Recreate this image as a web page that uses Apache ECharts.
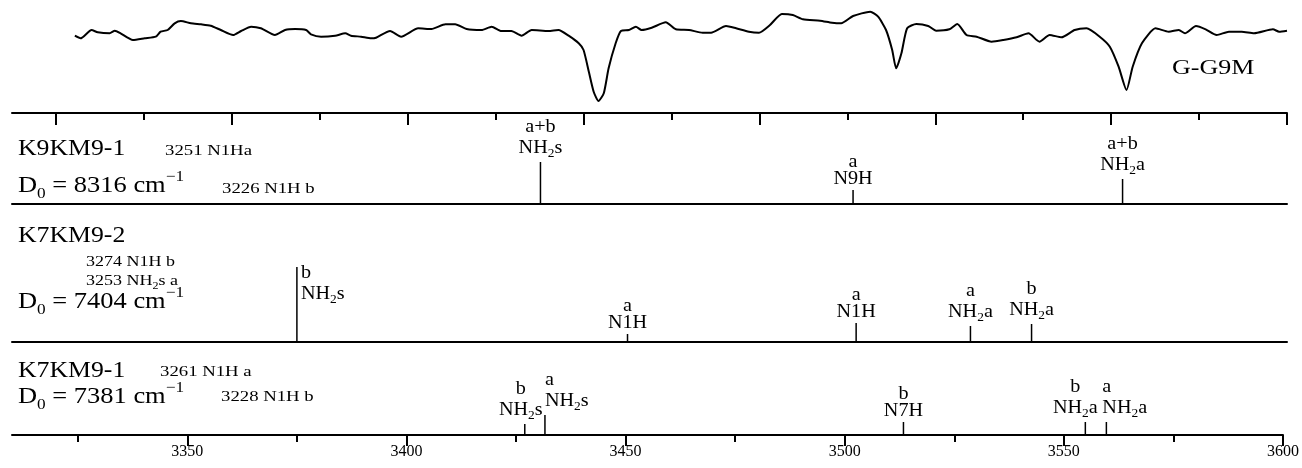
<!DOCTYPE html>
<html>
<head>
<meta charset="utf-8">
<script src="https://cdn.jsdelivr.net/npm/echarts@6/dist/echarts.min.js"></script>
<style>
  html, body { margin: 0; padding: 0; background: #fff; }
  #chart { width: 1302px; height: 468px; }
</style>
</head>
<body>
<div id="chart"></div>
<script>
const FONT = '"Liberation Serif", "Times New Roman", serif'
const X_MIN = 3310
const X_MAX = 3600

// measured spectrum (depth: larger = deeper dip)
const specWn = [3324.3, 3325.6, 3328.1, 3329.5, 3332.2, 3333.4, 3334.7, 3337.5, 3340.2, 3342.7,
  3343.8, 3345.4, 3347.0, 3348.4, 3350.7, 3353.0, 3355.2, 3357.5, 3360.3, 3362.1,
  3364.4, 3366.6, 3369.8, 3372.1, 3374.4, 3376.9, 3378.0, 3380.3, 3383.5, 3385.8,
  3387.1, 3389.4, 3391.7, 3392.8, 3396.0, 3398.5, 3402.4, 3405.4, 3408.6, 3410.8,
  3413.4, 3416.8, 3419.1, 3421.3, 3423.6, 3425.9, 3428.2, 3432.0, 3434.3, 3436.6,
  3438.9, 3440.0, 3441.2, 3442.3, 3443.4, 3444.6, 3445.7, 3447.3, 3448.5, 3450.3,
  3451.9, 3453.2, 3455.5, 3458.7, 3461.0, 3464.0, 3467.1, 3469.0, 3472.4, 3474.7,
  3477.6, 3479.9, 3482.4, 3485.1, 3487.6, 3489.9, 3493.8, 3496.5, 3498.6, 3501.3,
  3505.2, 3507.0, 3508.8, 3510.2, 3511.1, 3512.3, 3513.6, 3515.7, 3518.4, 3520.2,
  3523.2, 3525.0, 3527.1, 3529.4, 3532.8, 3535.5, 3538.5, 3541.2, 3543.7, 3546.0,
  3548.7, 3551.7, 3554.4, 3557.4, 3559.7, 3561.7, 3563.5, 3564.9, 3567.0, 3570.1,
  3573.1, 3575.4, 3576.8, 3579.3, 3581.5, 3584.0, 3586.8, 3589.7, 3592.5, 3596.8,
  3598.2, 3600.0]
const specDepth = [35.7, 38.3, 30, 32.3, 33.3, 30.7, 33.3, 40, 38.3, 36.7,
  31.7, 30, 23.3, 21, 23.3, 24.3, 25.7, 30, 35, 31,
  26.7, 28.3, 35, 30, 29, 30, 34.3, 36.7, 35.7, 33.3,
  35.7, 36.7, 38.3, 37.7, 31, 36.7, 28.3, 29, 24.3, 24.3,
  29, 30, 26.7, 31, 31, 35.7, 30, 31, 30, 35.7,
  43.3, 50, 71.7, 91.7, 101, 93.3, 68.3, 43.3, 31, 30,
  26.7, 30, 27.7, 22.3, 29.3, 30, 32.7, 32.7, 26, 28.3,
  31.7, 32.7, 25, 14, 15, 19.3, 20.7, 22.7, 23.3, 16,
  11.7, 16.7, 30, 50, 68.3, 53.3, 28.3, 24, 26, 30.7,
  29.3, 24, 35, 36.7, 41.7, 40, 37.3, 33.3, 41.7, 35,
  37.3, 30, 28.3, 36.7, 46.7, 66.7, 90, 66.7, 43.3, 28.3,
  31.7, 30, 33.3, 26, 29.3, 35, 31.7, 31.7, 33.3, 29.3,
  31.7, 30.7]

// K9KM9-1 sticks
const k9Wn = [3430.2, 3501.3, 3562.6]
const k9Int = [42, 14, 25]
const k9Conf = ['a+b', 'a', 'a+b']
const k9Mode = ['NH2s', 'N9H', 'NH2a']

// K7KM9-2 sticks
const k72Wn = [3374.8, 3450.0, 3502.0, 3528.0, 3541.9]
const k72Int = [75, 8, 19, 16, 18]
const k72Conf = ['b', 'a', 'a', 'a', 'b']
const k72Mode = ['NH2s', 'N1H', 'N1H', 'NH2a', 'NH2a']

// K7KM9-1 sticks
const k71Wn = [3427.0, 3431.6, 3513.4, 3554.9, 3559.7]
const k71Int = [11, 20, 13, 13, 13]
const k71Conf = ['b', 'a', 'b', 'b', 'a']
const k71Mode = ['NH2s', 'NH2s', 'N7H', 'NH2a', 'NH2a']

const topMajor = [3320, 3360, 3400, 3440, 3480, 3520, 3560, 3600]
const topMinor = [3340, 3380, 3420, 3460, 3500, 3540, 3580]
const bottomMajor = [3350, 3400, 3450, 3500, 3550, 3600]
const bottomMinor = [3325, 3375, 3425, 3475, 3525, 3575]

const chart = echarts.init(document.getElementById('chart'))

const labelRich = {
  n: { fontFamily: FONT, fontSize: 18, lineHeight: 17, color: '#000' },
  s: { fontFamily: FONT, fontSize: 12, lineHeight: 24, color: '#000', verticalAlign: 'bottom' }
}

function modeText (conf, mode) {
  const m = mode.replace('H2', 'H}{s|2}{n|')
  return '{n|' + conf + '}\n{n|' + m + '}'
}

// label tweaks where neighbouring sticks crowd each other
const tweaks = {
  k72: { 0: { side: 'right' } },
  k71: { 0: { dx: -4 }, 1: { align: 'left', dx: 0 }, 3: { dx: -10 }, 4: { align: 'left', dx: -4 } }
}

function stickSeries (grid, wn, inten, conf, mode, tw) {
  return {
    type: 'custom',
    xAxisIndex: grid.x,
    yAxisIndex: grid.y,
    data: wn.map((w, i) => [w, inten[i], i]),
    encode: { x: 0, y: 1 },
    renderItem: (params, api) => {
      const i = api.value(2)
      const p0 = api.coord([api.value(0), 0])
      const p1 = api.coord([api.value(0), api.value(1)])
      const t = (tw && tw[i]) || {}
      let text
      if (t.side === 'right') {
        text = { type: 'text', x: p1[0] + 4, y: p1[1] - 2, scaleX: 1.12,
          style: { text: modeText(conf[i], mode[i]), rich: labelRich, align: 'left', verticalAlign: 'top' } }
      } else {
        text = { type: 'text', x: p1[0] + (t.dx || 0), y: p1[1] - 2, scaleX: 1.12,
          style: { text: modeText(conf[i], mode[i]), rich: labelRich, align: t.align || 'center', verticalAlign: 'bottom' } }
      }
      return {
        type: 'group',
        children: [
          { type: 'line', shape: { x1: p0[0], y1: p0[1], x2: p1[0], y2: p1[1] }, style: { stroke: '#000', lineWidth: 1.5 } },
          text
        ]
      }
    }
  }
}

const hiddenX = (gridIndex) => ({
  type: 'value', gridIndex, min: X_MIN, max: X_MAX, show: false
})

const lineX = (gridIndex, position) => ({
  type: 'value', gridIndex, min: X_MIN, max: X_MAX, position,
  axisLine: { show: true, lineStyle: { color: '#000', width: 2 } },
  axisTick: { show: false }, axisLabel: { show: false }, splitLine: { show: false }
})

const tickX = (gridIndex, position, values, len, inside, showLine, labels) => ({
  type: 'value', gridIndex, min: X_MIN, max: X_MAX, position,
  axisLine: { show: showLine, onZero: false, lineStyle: { color: '#000', width: 2 } },
  axisTick: { show: true, inside, length: len, customValues: values, lineStyle: { color: '#000', width: 2 } },
  axisLabel: labels
    ? { show: true, customValues: values, formatter: v => String(v), fontFamily: FONT, fontSize: 16, color: '#000', margin: 9 }
    : { show: false },
  splitLine: { show: false }
})

const hiddenY = (gridIndex, max, inverse) => ({
  type: 'value', gridIndex, min: 0, max, inverse: !!inverse, show: false
})

// free text, anchored at its left end and vertical middle
const note = (x, y, text, size, sx) => ({
  type: 'text', x, y, scaleX: sx,
  style: { text, fontFamily: FONT, fontSize: size, fill: '#000', align: 'left', verticalAlign: 'middle' }
})

const d0Rich = {
  m: { fontFamily: FONT, fontSize: 23, lineHeight: 24, color: '#000' },
  sb: { fontFamily: FONT, fontSize: 15, lineHeight: 32, color: '#000', verticalAlign: 'bottom' },
  sp: { fontFamily: FONT, fontSize: 15, lineHeight: 32, color: '#000', verticalAlign: 'top' }
}
const smallRich = {
  m: { fontFamily: FONT, fontSize: 15, lineHeight: 16, color: '#000' },
  sb: { fontFamily: FONT, fontSize: 10, lineHeight: 21, color: '#000', verticalAlign: 'bottom' }
}
const d0 = (x, y, value) => ({
  type: 'text', x, y, scaleX: 1.15,
  style: { text: '{m|D}{sb|0}{m| = ' + value + ' cm}{sp|\u22121}', rich: d0Rich, align: 'left', verticalAlign: 'middle' }
})

const option = {
  animation: false,
  backgroundColor: '#fff',
  grid: [
    { left: 12, right: 15, top: 0, height: 110 },
    { left: 12, right: 15, top: 113, height: 91 },
    { left: 12, right: 15, top: 204, height: 138 },
    { left: 12, right: 15, top: 342, height: 93 }
  ],
  xAxis: [
    hiddenX(0),
    tickX(1, 'top', topMajor, 12, true, true, false),
    tickX(1, 'top', topMinor, 7, true, false, false),
    lineX(1, 'bottom'),
    lineX(2, 'bottom'),
    tickX(3, 'bottom', bottomMajor, 11, false, true, true),
    tickX(3, 'bottom', bottomMinor, 7, false, false, false)
  ],
  yAxis: [
    hiddenY(0, 110, true),
    hiddenY(1, 91),
    hiddenY(2, 138),
    hiddenY(3, 93)
  ],
  graphic: [
    note(1172, 69, 'G-G9M', 20, 1.3),
    note(18, 149, 'K9KM9-1', 23, 1.12),
    note(165, 151, '3251 N1Ha', 15, 1.25),
    d0(18, 186, '8316'),
    note(222, 189, '3226 N1H b', 15, 1.25),
    note(18, 236, 'K7KM9-2', 23, 1.12),
    note(86, 262, '3274 N1H b', 15, 1.2),
    { type: 'text', x: 86, y: 281, scaleX: 1.2,
      style: { text: '{m|3253 NH}{sb|2}{m|s a}', rich: smallRich, align: 'left', verticalAlign: 'middle' } },
    d0(18, 302, '7404'),
    note(18, 371, 'K7KM9-1', 23, 1.12),
    note(160, 372, '3261 N1H a', 15, 1.25),
    d0(18, 397, '7381'),
    note(221, 397, '3228 N1H b', 15, 1.25)
  ],
  series: [
    {
      type: 'line',
      xAxisIndex: 0,
      yAxisIndex: 0,
      data: specWn.map((w, i) => [w, specDepth[i]]),
      showSymbol: false,
      smooth: 0.2,
      lineStyle: { color: '#000', width: 2 }
    },
    stickSeries({ x: 1, y: 1 }, k9Wn, k9Int, k9Conf, k9Mode, null),
    stickSeries({ x: 4, y: 2 }, k72Wn, k72Int, k72Conf, k72Mode, tweaks.k72),
    stickSeries({ x: 5, y: 3 }, k71Wn, k71Int, k71Conf, k71Mode, tweaks.k71)
  ]
}

chart.setOption(option)
</script>
</body>
</html>
